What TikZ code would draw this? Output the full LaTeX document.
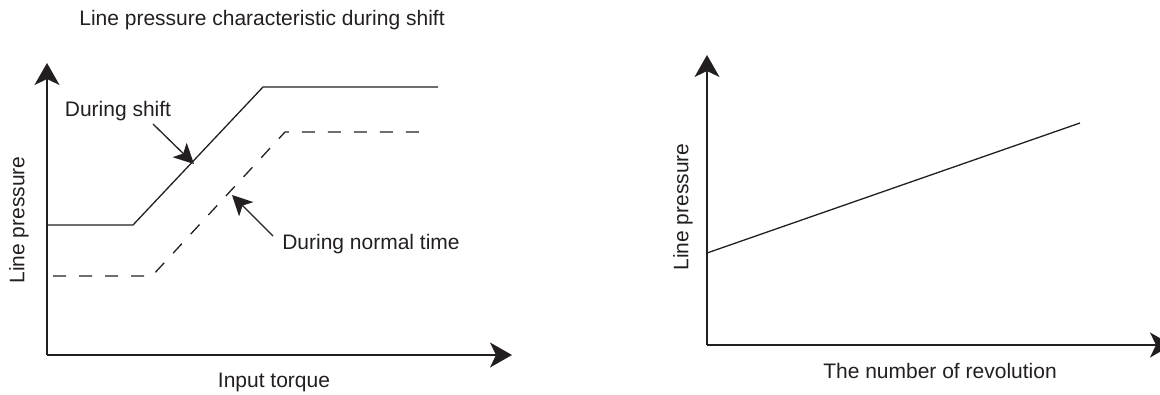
\documentclass[tikz,border=0pt]{standalone}
\usepackage{fontspec}
\setmainfont{Liberation Sans}
\usetikzlibrary{arrows.meta}
\definecolor{ink}{HTML}{231F20}
\begin{document}
\begin{tikzpicture}[x=1pt,y=-1pt,
  txt/.style={text=ink,font=\fontsize{21}{25}\selectfont,inner sep=0pt},
  axis/.style={draw=ink,line width=1.3pt,-{Stealth[length=22pt,width=25pt,inset=6pt]}},
  curve/.style={draw=ink,line width=1.3pt},
  dcurve/.style={draw=ink,line width=1.3pt,dash pattern=on 13pt off 13pt},
  pointer/.style={draw=ink,line width=1.3pt,-{Stealth[length=20pt,width=20pt,inset=5pt]}}]
\useasboundingbox (0,0) rectangle (1160,394);
% ---- left chart ----
\coordinate (lo) at (47,355);
\coordinate (ly) at (47,63);
\coordinate (lx) at (512,355);
\draw[axis] (lo) -- (ly);
\draw[axis] (lo) -- (lx);
\draw[curve] (47,225) -- (133,225) -- (263,87) -- (438,87);
\draw[dcurve] (53,276) -- (152,276) -- (285,132) -- (429,132);
\node[txt] (title) at (262,20) {Line pressure characteristic during shift};
\node[txt] (shift) at (118,111) {During shift};
\node[txt] (normal) at (371,244) {During normal time};
\coordinate (shifttip) at (194,164);
\coordinate (normaltip) at (232,195);
\draw[pointer] (153,124) -- (shifttip);
\draw[pointer] (273,236) -- (normaltip);
\node[txt,rotate=90] (lylab) at (19,220) {Line pressure};
\node[txt] (lxlab) at (274,382) {Input torque};
% ---- right chart ----
\coordinate (ro) at (707,345);
\coordinate (ry) at (707,55);
\coordinate (rx) at (1172,345);
\draw[axis] (ro) -- (ry);
\draw[axis] (ro) -- (rx);
\draw[curve] (707,253) -- (1080,123);
\node[txt,rotate=90] (rylab) at (683,207) {Line pressure};
\node[txt] (rxlab) at (940,371) {The number of revolution};
\end{tikzpicture}
\end{document}
